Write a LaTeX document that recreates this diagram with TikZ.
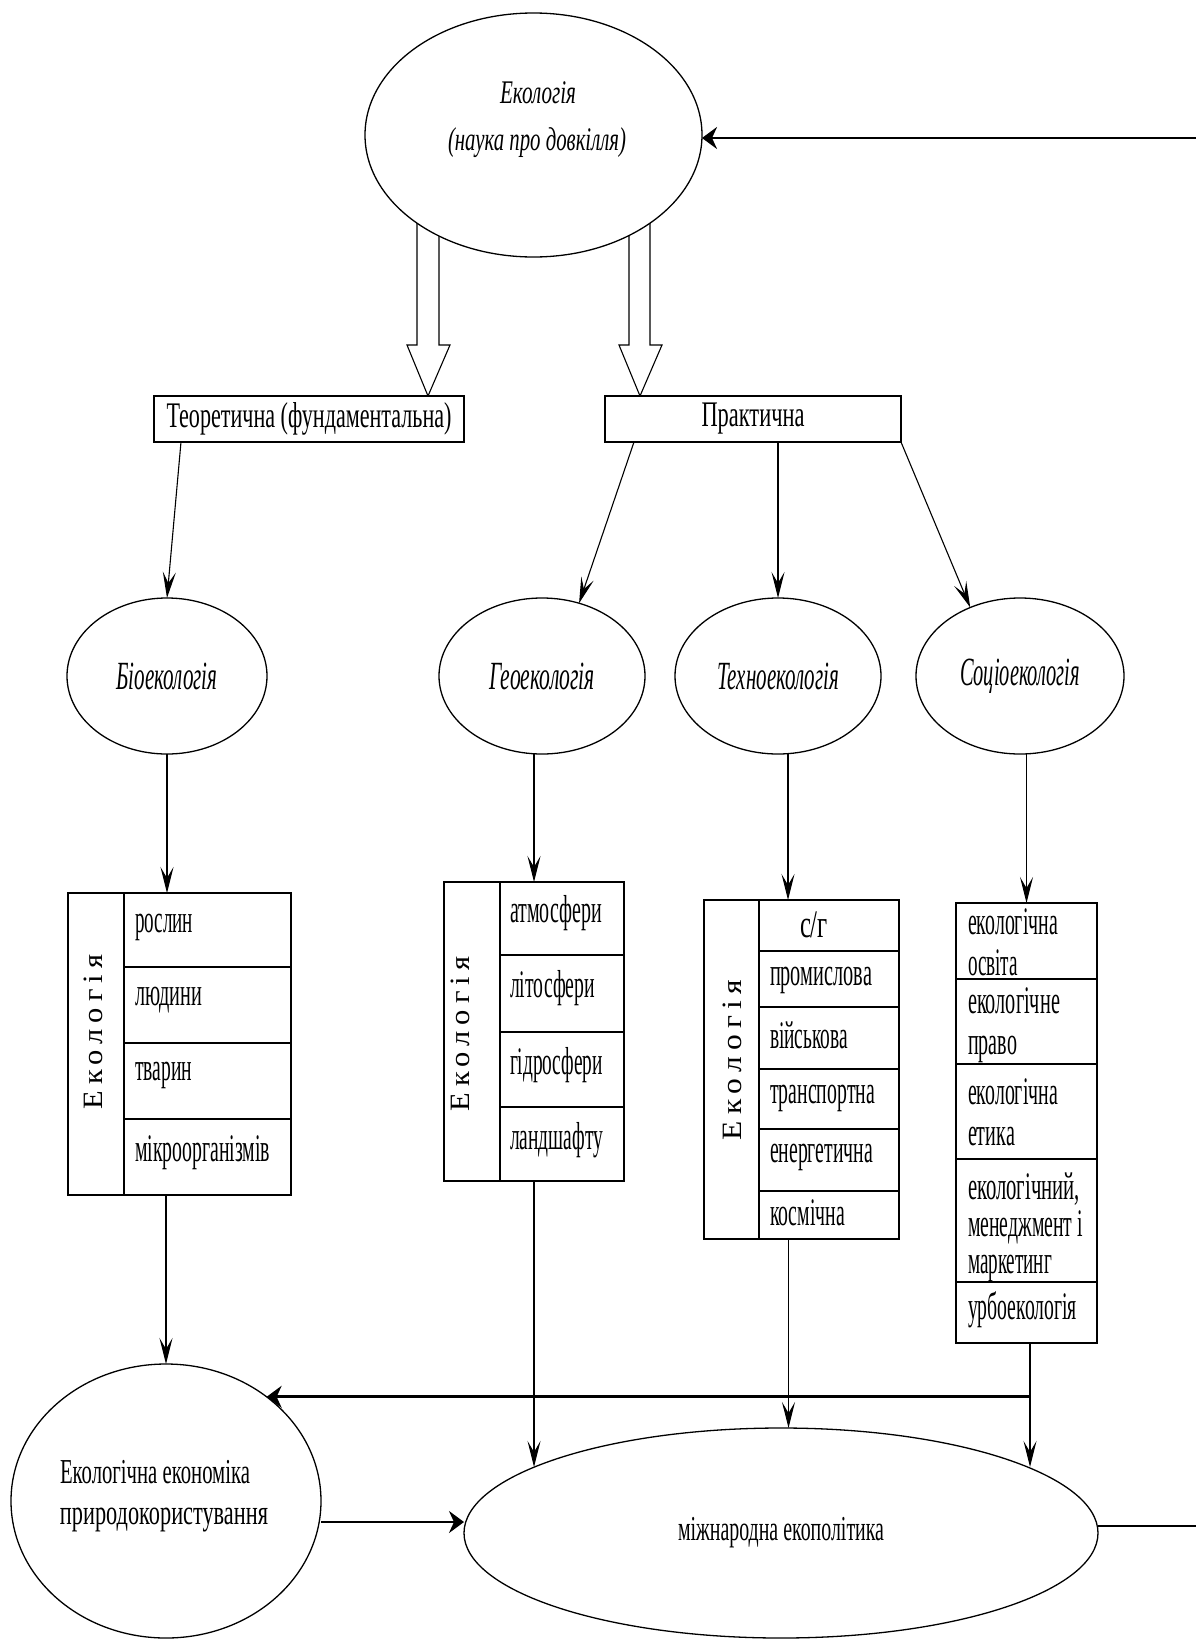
\documentclass[tikz,border=0pt]{standalone}
\usepackage{fontspec}
\setmainfont{Liberation Serif}
\usetikzlibrary{arrows.meta,shapes.geometric,backgrounds}
\newcommand{\fitw}[2]{\resizebox{#1pt}{\height}{#2}}
\begin{document}
\begin{tikzpicture}[x=1pt,y=-1pt,
  every node/.style={inner sep=0pt, outer sep=0pt},
  ell/.style={draw, ellipse, line width=1.3pt, fill=white},
  box/.style={draw, rectangle, line width=1.2pt, fill=white, font=\fontsize{36}{40}\selectfont},
  tab/.style={draw, rectangle, line width=1.2pt, anchor=north west},
  sep/.style={line width=1.2pt},
  hedge/.style={line width=2.4pt},
  arr/.style={line width=1.1pt, -{Stealth[length=26pt,width=13pt,inset=11pt]}},
  harr/.style={line width=2.8pt, -{Stealth[length=15pt,width=22pt,inset=5pt]}},
  hline/.style={line width=2.8pt},
  itx/.style={font=\fontsize{33}{36}\selectfont\itshape},
  rtx/.style={font=\fontsize{40}{44}\selectfont\itshape},
  ttx/.style={font=\fontsize{39}{41}\selectfont, anchor=west, align=left},
  vtx/.style={font=\fontsize{28}{30}\selectfont\addfontfeatures{LetterSpace=20}, rotate=90},
  btx/.style={font=\fontsize{35}{38}\selectfont},
]
\useasboundingbox (0,0) rectangle (1196,1641);

% ---------- top ellipse ----------
\node[ell, minimum width=337pt, minimum height=244pt] (top) at (533.5,135) {};
\node[itx] (toptxt1) at (538,93) {\fitw{76}{Екологія}};
\node[itx] (toptxt2) at (537,143) {\fitw{178}{(наука про довкілля)}};

% ---------- boxes ----------
\node[box, minimum width=310pt, minimum height=46pt] (theo) at (309,419) {\fitw{285}{Теоретична (фундаментальна)}};
\node[box, minimum width=296pt, minimum height=46pt] (prac) at (753,419) {\fitw{103}{Практична}};
\draw[hedge] (theo.north west) -- (theo.north east);
\draw[hedge] (theo.south west) -- (theo.south east);
\draw[hedge] (prac.north west) -- (prac.north east);
\draw[hedge] (prac.south west) -- (prac.south east);

% hollow arrows (behind the ellipse)
\begin{pgfonlayer}{background}
\fill[white] (0,0) rectangle (1196,1641);
\draw[line width=1.1pt, fill=white] (417,200) -- (417,345) -- (407,345) -- (428,396) -- (450,345) -- (439,345) -- (439,200);
\draw[line width=1.1pt, fill=white] (629,200) -- (629,345) -- (619,345) -- (640,396) -- (662,345) -- (650,345) -- (650,200);
\end{pgfonlayer}

% ---------- second row ellipses ----------
\node[ell, rtx, minimum width=200pt, minimum height=156pt] (bio) at (167,676) {\fitw{101}{Біоекологія}};
\node[ell, rtx, minimum width=206pt, minimum height=156pt] (geo) at (542,676) {\fitw{106}{Геоекологія}};
\node[ell, rtx, minimum width=206pt, minimum height=156pt] (tech) at (778,676) {\fitw{122}{Техноекологія}};
\node[ell, rtx, minimum width=208pt, minimum height=156pt] (soc) at (1020,676) {\fitw{120}{Соціоекологія}};

\draw[arr] ([xshift=27pt]theo.south west) -- (bio.north);
\draw[arr] ([xshift=29pt]prac.south west) -- (geo.63);
\draw[arr] (tech.north |- prac.south) -- (tech.north);
\draw[arr] (prac.south east) -- (soc.126);

% ---------- table: bio ----------
\node[tab, minimum width=223pt, minimum height=302pt] (biotab) at (68,893) {};
\draw[sep] (124,893) -- (124,1195);
\draw[sep] (124,967) -- (291,967);
\draw[sep] (124,1043) -- (291,1043);
\draw[sep] (124,1119) -- (291,1119);
\draw[hedge] (biotab.north west) -- (biotab.north east);
\draw[hedge] (biotab.south west) -- (biotab.south east);
\node[vtx] (biol) at (93,1032) {\fitw{155}{Екологія}};
\node[ttx] (bio1) at (135,927) {\fitw{58}{рослин}};
\node[ttx] (bio2) at (135,1000) {\fitw{67}{людини}};
\node[ttx] (bio3) at (135,1075) {\fitw{57}{тварин}};
\node[ttx] (bio4) at (135,1153) {\fitw{135}{мікроорганізмів}};

% ---------- table: geo ----------
\node[tab, minimum width=180pt, minimum height=299pt] (geotab) at (444,882) {};
\draw[sep] (500,882) -- (500,1181);
\draw[sep] (500,955) -- (624,955);
\draw[sep] (500,1032) -- (624,1032);
\draw[sep] (500,1107) -- (624,1107);
\draw[hedge] (geotab.north west) -- (geotab.north east);
\draw[hedge] (geotab.south west) -- (geotab.south east);
\node[vtx] (geol) at (460,1034) {\fitw{155}{Екологія}};
\node[ttx] (geo1) at (510,913) {\fitw{92}{атмосфери}};
\node[ttx] (geo2) at (510,988) {\fitw{85}{літосфери}};
\node[ttx] (geo3) at (510,1065) {\fitw{93}{гідросфери}};
\node[ttx] (geo4) at (510,1140) {\fitw{93}{ландшафту}};

% ---------- table: techno ----------
\node[tab, minimum width=195pt, minimum height=339pt] (techtab) at (704,900) {};
\draw[sep] (759,900) -- (759,1239);
\draw[sep] (759,951) -- (899,951);
\draw[sep] (759,1007) -- (899,1007);
\draw[sep] (759,1069) -- (899,1069);
\draw[sep] (759,1129) -- (899,1129);
\draw[sep] (759,1191) -- (899,1191);
\draw[hedge] (techtab.north west) -- (techtab.north east);
\draw[hedge] (techtab.south west) -- (techtab.south east);
\node[vtx] (techl) at (732,1060) {\fitw{160}{Екологія}};
\node[ttx, anchor=center] (tech1) at (814,925) {\fitw{28}{с/г}};
\node[ttx] (tech2) at (770,980) {\fitw{102}{промислова}};
\node[ttx] (tech3) at (770,1035) {\fitw{78}{військова}};
\node[ttx] (tech4) at (770,1098) {\fitw{105}{транспортна}};
\node[ttx] (tech5) at (770,1157) {\fitw{103}{енергетична}};
\node[ttx] (tech6) at (770,1213) {\fitw{75}{космічна}};

% ---------- table: socio ----------
\node[tab, minimum width=141pt, minimum height=440pt] (soctab) at (956,903) {};
\draw[sep] (956,979) -- (1097,979);
\draw[sep] (956,1064) -- (1097,1064);
\draw[sep] (956,1159) -- (1097,1159);
\draw[sep] (956,1282) -- (1097,1282);
\draw[hedge] (soctab.north west) -- (soctab.north east);
\draw[hedge] (soctab.south west) -- (soctab.south east);
\node[ttx] (soc1) at (968,942) {\fitw{90}{екологічна}\\\fitw{50}{освіта}};
\node[ttx] (soc2) at (968,1025) {\fitw{92}{екологічне}\\\fitw{49}{право}};
\node[ttx] (soc3) at (968,1112) {\fitw{90}{екологічна}\\\fitw{47}{етика}};
\node[ttx, font=\fontsize{39}{37}\selectfont] (soc4) at (968,1227) {\fitw{112}{екологічний,}\\\fitw{115}{менеджмент і}\\\fitw{84}{маркетинг}};
\node[ttx] (soc5) at (968,1310) {\fitw{109}{урбоекологія}};

% ellipse -> table arrows
\draw[arr] (bio.south) -- (bio.south |- biotab.north);
\draw[arr] (geotab.north |- geo.south) -- (geotab.north);
\draw[arr] ([xshift=10pt]tech.south) -- ([xshift=10pt]tech.south |- techtab.north);
\draw[arr] (soctab.north |- soc.south) -- (soctab.north);

% ---------- bottom ----------
\node[ell, minimum width=310pt, minimum height=274pt] (eco) at (166,1501) {};
\node[btx] (ecot1) at (155,1472) {\fitw{190}{Екологічна економіка}};
\node[btx] (ecot2) at (164,1520) {\fitw{208}{природокористування}};
\node[ell, btx, minimum width=634pt, minimum height=210pt] (mip) at (781,1533) {\fitw{206}{міжнародна екополітика}};

\draw[arr] (eco.north |- biotab.south) -- (eco.north);
\draw[arr] (geotab.south) -- (geotab.south |- mip.165);
\draw[arr] ([xshift=-13pt]techtab.south) -- ([xshift=-13pt]techtab.south |- mip.north);
\coordinate (sx) at ([xshift=3.5pt]soctab.south);
\draw[arr] (sx) -- (sx |- mip.15);
\draw[harr] (sx |- eco.46) -- (eco.46);
\draw[harr] ([yshift=-21pt]eco.east) -- ([yshift=-21pt]eco.east -| mip.west);

% right side lines
\coordinate (rt) at (1196,138);
\draw[harr] (rt) -- (rt -| top.east);
\coordinate (rb) at (1196,1526);
\draw[hline] ([yshift=7pt]mip.east) -- (rb);
\end{tikzpicture}
\end{document}
